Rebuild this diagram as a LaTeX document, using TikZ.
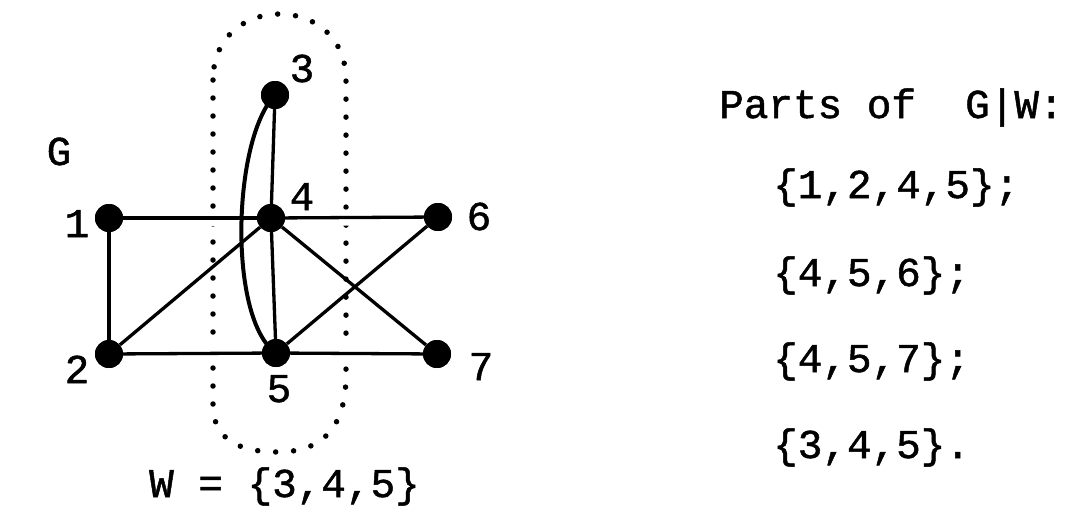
\documentclass[tikz,border=0pt]{standalone}
\usepackage{fontspec}
\setmainfont[FakeBold=1.2,AutoFakeBold=1.2]{Liberation Mono}
\begin{document}
\begin{tikzpicture}[x=1pt,y=-1pt,
  vtx/.style={circle,fill=black,minimum size=28pt,inner sep=0pt},
  lbl/.style={font=\fontsize{41}{48}\selectfont\bfseries,inner sep=0pt,anchor=base},
  txt/.style={font=\fontsize{41}{48}\selectfont\bfseries,inner sep=0pt,anchor=base west},
  edge/.style={line width=3.3pt},
  halo/.style={line width=16pt,white},
  dotloop/.style={line width=5.5pt,line cap=round,dash pattern=on 0pt off 18pt}]
\useasboundingbox (0,0) rectangle (1077,507);
% vertices
\node[vtx] (n1) at (109,218) {};
\node[vtx] (n2) at (109,354) {};
\node[vtx] (n3) at (275,95) {};
\node[vtx] (n4) at (271,218) {};
\node[vtx] (n5) at (276,353) {};
\node[vtx] (n6) at (438,217) {};
\node[vtx] (n7) at (437,354) {};
% dotted set W
\draw[dotloop] (213,80) -- (213,405) .. controls (213,440) and (240,452) .. (278,452)
  .. controls (320,452) and (346,430) .. (346,375) -- (346,80)
  .. controls (346,-8) and (213,-8) .. (213,80);
% white gaps where the horizontal edges cross the loop
\draw[halo] (n1) -- (n4) -- (n6);
\draw[halo] (n2) -- (n5) -- (n7);
% edges
\draw[edge] (n1) -- (n4);
\draw[edge] (n4) -- (n6);
\draw[edge] (n1) -- (n2);
\draw[edge] (n2) -- (n5);
\draw[edge] (n5) -- (n7);
\draw[edge] (n2) -- (n4);
\draw[edge] (n4) -- (n5);
\draw[edge] (n3) -- (n4);
\draw[edge] (n4) -- (n7);
\draw[edge] (n5) -- (n6);
\draw[line width=4pt] (n3.center) .. controls (232,140) and (228,320) .. (n5.center);
% redraw vertices on top
\foreach \v in {n1,n2,n3,n4,n5,n6,n7} \fill (\v) circle (14pt);
% vertex labels
\node[lbl] (l3) at (302,82) {3};
\node[lbl] (l4) at (302,210) {4};
\node[lbl] (l1) at (77,237) {1};
\node[lbl] (l6) at (479,230) {6};
\node[lbl] (l2) at (77,383) {2};
\node[lbl] (l5) at (279,402) {5};
\node[lbl] (l7) at (481,380) {7};
\node[lbl] (lG) at (59,165) {G};
\node[txt] (lW) at (149,497) {W = \{3,4,5\}};
% parts
\node[txt] (p0) at (719,118) {Parts of\ \ G|W:};
\node[txt] (p1) at (773,198) {\{1,2,4,5\};};
\node[txt] (p2) at (773,286) {\{4,5,6\};};
\node[txt] (p3) at (773,372) {\{4,5,7\};};
\node[txt] (p4) at (773,458) {\{3,4,5\}.};
\end{tikzpicture}
\end{document}
